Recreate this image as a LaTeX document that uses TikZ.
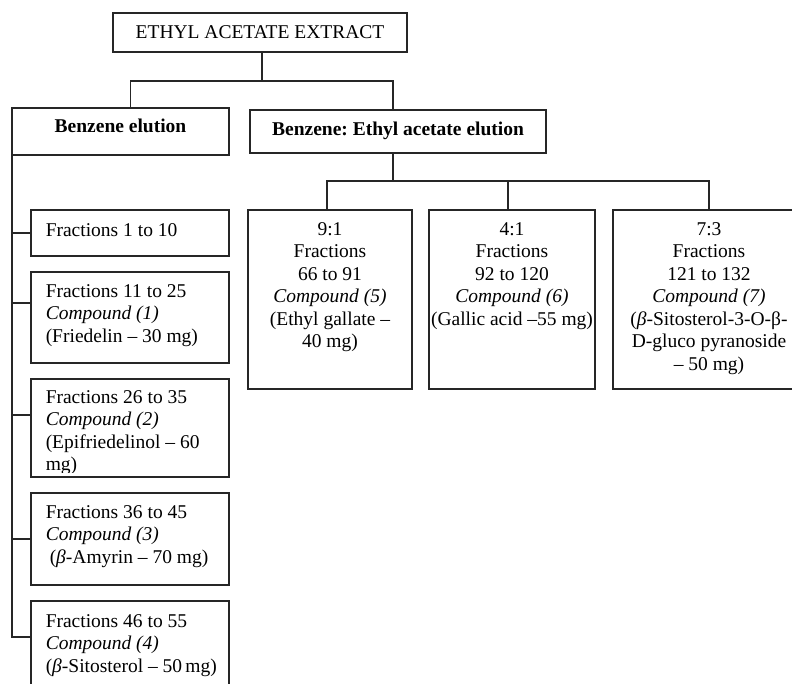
\documentclass[tikz,border=0pt]{standalone}
\usepackage{fontspec}
\setmainfont{Liberation Serif}
\usetikzlibrary{positioning,calc}

\begin{document}
\begin{tikzpicture}[x=1bp, y=-1bp,
    line width=1.5bp,
    box/.style={draw=black!85, line width=1.5bp, rectangle, inner sep=0pt, outer sep=0pt, anchor=north west},
    boxtext/.style={font=\fontsize{19.5bp}{22.5bp}\selectfont, inner sep=0pt, text=black,
        execute at begin node={\spaceskip=0.25em\xspaceskip=0.25em\relax}},
    titletext/.style={boxtext, anchor=base},
    lefttext/.style={boxtext, text width=182bp, align=left, anchor=base west},
    midtext/.style={boxtext, text width=180bp, align=center, anchor=base},
    link/.style={draw=black!85, line width=1.5bp}]

\clip (0,0) rectangle (792,684);

% ---- Top: extract ----
\node[box, minimum width=294bp, minimum height=39bp] (extract) at (113,13) {};
\node[titletext] (extract-t) at (260,39) {ETHYL ACETATE EXTRACT};

% ---- Elution boxes ----
\node[box, minimum width=217bp, minimum height=47bp] (benz) at (12,108) {};
\node[titletext, font=\fontsize{19.5bp}{22.5bp}\selectfont\bfseries] (benz-t) at (120.5,133) {Benzene elution};

\node[box, minimum width=296bp, minimum height=43bp] (benzea) at (250,110) {};
\node[titletext, font=\fontsize{19.5bp}{22.5bp}\selectfont\bfseries] (benzea-t) at (398,136) {Benzene: Ethyl acetate elution};

% ---- Left column: benzene fractions ----
\node[box, minimum width=198bp, minimum height=46bp] (f1) at (31,210) {};
\node[lefttext] (f1-t) at (45,236) {Fractions 1 to 10};

\node[box, minimum width=198bp, minimum height=91bp] (f2) at (31,272) {};
\node[lefttext] (f2-t) at (45,297) {Fractions 11 to 25\\\textit{Compound (1)}\\(Friedelin – 30 mg)};

\node[box, minimum width=198bp, minimum height=98bp] (f3) at (31,379) {};
\begin{scope}
    % last line is cut off by the box
    \clip (31,379) rectangle (229,472);
    \node[lefttext] (f3-t) at (45,403) {Fractions 26 to 35\\\textit{Compound (2)}\\(Epifriedelinol – 60\\mg)};
\end{scope}

\node[box, minimum width=198bp, minimum height=92bp] (f4) at (31,493) {};
\node[lefttext] (f4-t) at (45,518) {Fractions 36 to 45\\\textit{Compound (3)}\\\hspace*{4bp}({\itshape β}-Amyrin – 70 mg)};

\node[box, minimum width=198bp, minimum height=110bp] (f5) at (31,601) {};
\node[lefttext] (f5-t) at (45,627) {Fractions 46 to 55\\\textit{Compound (4)}\\({\itshape β}-Sitosterol – 50\,mg)};

% ---- Right row: benzene / ethyl acetate fractions ----
\node[box, minimum width=164bp, minimum height=179bp] (r1) at (248,210) {};
\node[midtext] (r1-t) at (330,235) {9:1\\Fractions\\66 to 91\\\textit{Compound (5)}\\(Ethyl gallate –\\40 mg)};

\node[box, minimum width=166bp, minimum height=179bp] (r2) at (429,210) {};
\node[midtext] (r2-t) at (512,235) {4:1\\Fractions\\92 to 120\\\textit{Compound (6)}\\(Gallic acid –55 mg)};

\node[box, minimum width=192bp, minimum height=179bp] (r3) at (613,210) {};
\node[midtext] (r3-t) at (709,235) {7:3\\Fractions\\121 to 132\\\textit{Compound (7)}\\({\itshape β}-Sitosterol-3-O-β-\\D-gluco pyranoside\\– 50 mg)};

% ---- Connectors ----
\draw[link] ([xshift=2bp]extract.south) -- ++(0,29) coordinate (top-split);
\draw[link] ([xshift=10bp]benz.north) |- (top-split) -| ([xshift=-5bp]benzea.north);

% left spine with stubs
\coordinate (f2-in) at ([yshift=-31bp]f2.north west);
\coordinate (f3-in) at ([yshift=-36bp]f3.north west);
\coordinate (f5-in) at ([yshift=-36bp]f5.north west);
\draw[link] (benz.south west) |- (f5-in);
\draw[link] (f1.west) -- (f1.west -| benz.west);
\draw[link] (f2-in) -- (f2-in -| benz.west);
\draw[link] (f3-in) -- (f3-in -| benz.west);
\draw[link] (f4.west) -- (f4.west -| benz.west);

% right branch
\draw[link] ([xshift=-5bp]benzea.south) -- ++(0,28) coordinate (mid-split);
\coordinate (r1-in) at ([xshift=-3bp]r1.north);
\coordinate (r2-in) at ([xshift=-4bp]r2.north);
\draw[link] (r1-in) |- (mid-split) -| (r3.north);
\draw[link] (r2-in) -- (r2-in |- mid-split);

\end{tikzpicture}
\end{document}
